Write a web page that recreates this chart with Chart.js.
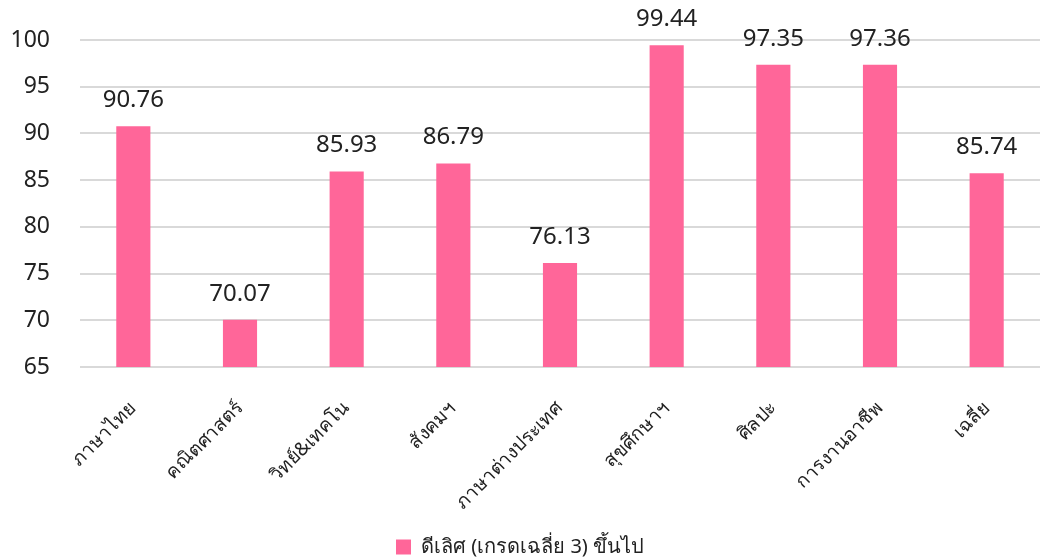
<!DOCTYPE html>
<html><head><meta charset="utf-8">
<script src="https://cdn.jsdelivr.net/npm/chart.js@4/dist/chart.umd.min.js"></script>
<style>html,body{margin:0;padding:0;background:#fff}#wrap{width:1041px;height:559px}</style>
</head><body><div id="wrap"><canvas id="c" width="1041" height="559"></canvas></div>
<script>
const categories = ["ภาษาไทย","คณิตศาสตร์","วิทย์&เทคโน","สังคมฯ","ภาษาต่างประเทศ","สุขศึกษาฯ","ศิลปะ","การงานอาชีพ","เฉลี่ย"];
const values = [90.76,70.07,85.93,86.79,76.13,99.44,97.35,97.36,85.74];
const seriesName = "ดีเลิศ (เกรดเฉลี่ย 3) ขึ้นไป";
const FONT = "'Noto Sans', 'DejaVu Sans', sans-serif";

const labelPlugin = {
  id: 'vlabels',
  afterDatasetsDraw(chart) {
    const ctx = chart.ctx;
    const meta = chart.getDatasetMeta(0);
    ctx.save();
    ctx.font = "24px " + FONT;
    ctx.fillStyle = "#222";
    ctx.textAlign = "center";
    ctx.textBaseline = "alphabetic";
    meta.data.forEach((el, i) => {
      ctx.fillText(values[i].toFixed(2), el.x, el.y - 19);
    });
    ctx.restore();
  }
};

new Chart(document.getElementById('c'), {
  type: 'bar',
  data: { labels: categories, datasets: [{ label: seriesName, data: values, backgroundColor: '#FF6699', borderWidth: 0, barPercentage: 0.32, categoryPercentage: 1 }] },
  options: {
    responsive: false, animation: false,
    layout: { padding: { top: 40, right: 1, left: 0, bottom: -8 } },
    scales: {
      y: { min: 65, max: 100, ticks: { stepSize: 5, color: '#222', font: { family: FONT, size: 23 }, padding: 30 },
           grid: { color: '#d9d9d9', lineWidth: 2, drawTicks: false }, border: { display: false },
           afterFit(s) { s.width = 80; s.paddingTop = 0; s.paddingBottom = 0; } },
      x: { ticks: { color: '#222', font: { family: FONT, size: 19 }, minRotation: 45, maxRotation: 45, padding: 22 },
           grid: { display: false }, border: { display: false },
           afterFit(s) { s.height = 160; } }
    },
    plugins: {
      legend: { position: 'bottom', labels: { color: '#222', font: { family: FONT, size: 20 }, boxWidth: 15, boxHeight: 15, padding: 10 } },
      tooltip: { enabled: false }
    }
  },
  plugins: [labelPlugin]
});
</script></body></html>
